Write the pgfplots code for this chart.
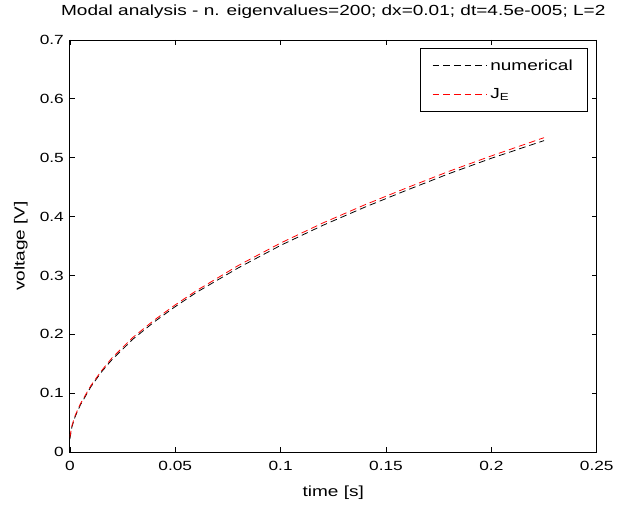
\documentclass[border=0pt]{standalone}
\usepackage{fontspec}
\setmainfont{Liberation Sans}[FakeStretch=1.3]
\usepackage{pgfplots}
\pgfplotsset{compat=1.18}
\begin{document}
\begin{tikzpicture}
\begin{axis}[
  scale only axis,
  width=396pt, height=309.75pt,
  xmin=0, xmax=0.25, ymin=0, ymax=0.7,
  xtick={0,0.05,0.1,0.15,0.2,0.25},
  ytick={0,0.1,0.2,0.3,0.4,0.5,0.6,0.7},
  xticklabels={0,0.05,0.1,0.15,0.2,0.25},
  yticklabels={0,0.1,0.2,0.3,0.4,0.5,0.6,0.7},
  tick align=inside,
  major tick length=3.75pt,
  tick style={black, line width=0.5pt},
  axis line style={line width=0.6pt},
  ticklabel style={font=\fontsize{10}{12}\selectfont},
  xticklabel style={yshift=-3pt},
  yticklabel style={xshift=-1pt},
  title style={font=\fontsize{11}{13}\selectfont, at={(axis description cs:0.5,1)}, anchor=base, yshift=12pt, inner sep=0pt},
  title={Modal analysis - n. eigenvalues=200; dx=0.01; dt=4.5e-005; L=2},
  xlabel={time [s]},
  ylabel={voltage [V]},
  xlabel style={font=\fontsize{11}{13}\selectfont, at={(axis description cs:0.5,-0.0823)}, anchor=north, inner sep=0pt},
  ylabel style={font=\fontsize{11}{13}\selectfont, at={(axis description cs:-0.0795,0.5)}, anchor=south, inner sep=0pt},
  legend style={at={(1,1)}, xshift=-6.75pt, yshift=-6pt, anchor=north east, draw=black, line width=0.5pt,
    font=\fontsize{11}{13}\selectfont, inner xsep=9pt, inner ysep=6.5pt,
    row sep=8pt, cells={anchor=west}},
  legend image code/.code={\draw[#1] (0pt,0pt) -- (41pt,0pt);},
]
\addplot[black, line width=0.6pt, dash pattern=on 5pt off 3pt] coordinates {
(0,0.022) (0.001,0.043) (0.0025,0.06) (0.005,0.08) (0.01,0.111) (0.015,0.136)
(0.02,0.157) (0.03,0.192) (0.04,0.221) (0.05,0.247) (0.06,0.271) (0.08,0.313)
(0.1,0.351) (0.12,0.385) (0.14,0.416) (0.16,0.445) (0.18,0.473) (0.2,0.499) (0.225,0.529)
};
\addlegendentry{numerical}
\addplot[red, line width=0.6pt, dash pattern=on 5pt off 3pt] coordinates {
(0,0.025) (0.001,0.045) (0.0025,0.062) (0.005,0.082) (0.01,0.113) (0.015,0.138)
(0.02,0.16) (0.03,0.195) (0.04,0.224) (0.05,0.25) (0.06,0.274) (0.08,0.317)
(0.1,0.355) (0.12,0.389) (0.14,0.42) (0.16,0.449) (0.18,0.477) (0.2,0.503) (0.225,0.534)
};
\addlegendentry{J\textsubscript{E}}
\end{axis}
\path (current axis.south west) ++(-52.5pt,-41.25pt) rectangle ++(463.5pt,381pt);
\end{tikzpicture}
\end{document}
